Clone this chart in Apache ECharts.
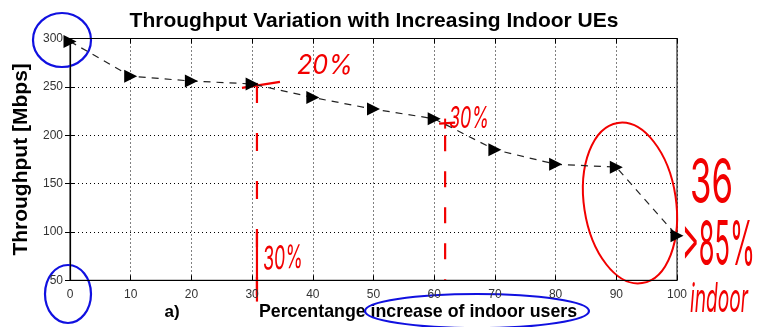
<!DOCTYPE html>
<html><head><meta charset="utf-8">
<script src="https://cdn.jsdelivr.net/npm/echarts@6/dist/echarts.min.js"></script>
<style>html,body{margin:0;padding:0;background:#fff}#c{width:757px;height:327px}</style>
</head><body><div id="c"></div>
<script>
const percentIncrease = [0, 10, 20, 30, 40, 50, 60, 70, 80, 90, 100];
const throughputMbps = [297, 261, 256, 253, 239, 227, 217, 185, 170, 167, 96];
const yTicks = [50, 100, 150, 200, 250, 300];
const xTicks = [0, 10, 20, 30, 40, 50, 60, 70, 80, 90, 100];

const chart = echarts.init(document.getElementById('c'), null, {renderer: 'canvas'});
const font = '"Liberation Sans", Arial, sans-serif';
const tickStyle = {show: true, inside: true, length: 5, lineStyle: {color: '#000', width: 1}};
const gridLine = {show: true, lineStyle: {color: '#000', type: [1, 3], width: 1}};

const option = {
  backgroundColor: '#fff',
  animation: false,
  title: {
    text: 'Throughput Variation with Increasing Indoor UEs',
    left: 369, textAlign: 'center', top: 6,
    textStyle: {fontFamily: font, fontWeight: 'bold', fontSize: 21, color: '#000'}
  },
  grid: {left: 70, right: 80, top: 38.5, bottom: 46.7, show: true, borderColor: '#000', borderWidth: 1},
  xAxis: [{
    type: 'value', min: xTicks[0], max: xTicks[xTicks.length - 1], interval: 10,
    axisLine: {show: true, lineStyle: {color: '#000', width: 1.2}},
    axisTick: tickStyle, splitLine: gridLine,
    axisLabel: {fontFamily: font, fontSize: 12, color: '#333', margin: 8}
  }, {
    type: 'value', position: 'top', min: 0, max: 100, interval: 10,
    axisLine: {show: true, lineStyle: {color: '#000'}}, axisTick: tickStyle,
    axisLabel: {show: false}, splitLine: {show: false}
  }],
  yAxis: [{
    type: 'value', min: yTicks[0], max: yTicks[yTicks.length - 1], interval: 50,
    name: 'Throughput [Mbps]', nameLocation: 'middle', nameGap: 34,
    nameTextStyle: {fontFamily: font, fontWeight: 'bold', fontSize: 21, color: '#000'},
    axisLine: {show: true, lineStyle: {color: '#000', width: 1.2}},
    axisTick: tickStyle, splitLine: gridLine,
    axisLabel: {fontFamily: font, fontSize: 12, color: '#333', margin: 7}
  }, {
    type: 'value', position: 'right', min: 50, max: 300, interval: 50,
    axisLine: {show: true, lineStyle: {color: '#000'}}, axisTick: tickStyle,
    axisLabel: {show: false}, splitLine: {show: false}
  }],
  series: [{
    type: 'line',
    data: percentIncrease.map((x, i) => [x, throughputMbps[i]]),
    symbol: 'triangle', symbolRotate: -90, symbolSize: 13,
    itemStyle: {color: '#000'},
    lineStyle: {color: '#222', width: 1.2, type: [7, 6]},
    clip: false
  }]
};
chart.setOption(option);

function px(x, y) { return chart.convertToPixel({xAxisIndex: 0, yAxisIndex: 0}, [x, y]); }
const red = '#f20000', blue = '#1010e0';
const hand = 'Inter, "Open Sans", Lato, sans-serif';
const ctx = document.createElement('canvas').getContext('2d');
// text fitted into a box (left, top, width, height of the glyphs)
function fitText(str, left, top, w, h, fnt, color, extra) {
  const size = 24;
  const f = fnt.replace('SIZE', size + 'px');
  ctx.font = f;
  const mw = ctx.measureText(str).width;
  const sx = w / mw, sy = h / (0.74 * size);
  return Object.assign({
    type: 'text', x: left, y: top + h / 2 + 0.06 * size * sy, scaleX: sx, scaleY: sy,
    style: {text: str, font: f, fill: color, align: 'left', verticalAlign: 'middle'}
  }, extra || {});
}
const g = [];
g.push({type: 'text', x: 172, y: 312, style: {text: 'a)', font: 'bold 17px ' + font, fill: '#000', align: 'center', verticalAlign: 'middle'}});
g.push({type: 'text', x: 418, y: 312, style: {text: 'Percentange increase of indoor users', font: 'bold 17.8px ' + font, fill: '#000', align: 'center', verticalAlign: 'middle'}});
// red dashed vertical strokes
const l1a = px(30.8, 252), l1b = px(30.8, 28);
g.push({type: 'line', shape: {x1: l1a[0], y1: l1a[1], x2: l1b[0], y2: l1b[1]}, style: {stroke: red, lineWidth: 2.2, lineDash: [18, 30]}});
const l1c = px(30.8, 100);
g.push({type: 'line', shape: {x1: l1c[0], y1: l1c[1], x2: l1b[0], y2: l1b[1]}, style: {stroke: red, lineWidth: 2.2}});
const l2a = px(61.8, 200), l2b = px(61.8, 50);
g.push({type: 'line', shape: {x1: l2a[0], y1: l2a[1], x2: l2b[0], y2: l2b[1]}, style: {stroke: red, lineWidth: 2.2, lineDash: [16, 20]}});
// red short crossing marks
const c1 = px(30.8, 252);
g.push({type: 'line', shape: {x1: c1[0] - 15, y1: c1[1] + 3, x2: c1[0] + 23, y2: c1[1] - 3}, style: {stroke: red, lineWidth: 2.2}});
g.push({type: 'line', shape: {x1: c1[0], y1: c1[1] - 2, x2: c1[0], y2: c1[1] + 6}, style: {stroke: red, lineWidth: 2}});
const c2 = px(61.8, 212);
g.push({type: 'line', shape: {x1: c2[0] - 6, y1: c2[1], x2: c2[0] + 10, y2: c2[1] - 1}, style: {stroke: red, lineWidth: 2.2}});
g.push({type: 'line', shape: {x1: c2[0], y1: c2[1] - 5, x2: c2[0], y2: c2[1] + 5}, style: {stroke: red, lineWidth: 2}});
// red handwritten notes
g.push(fitText('20%', 297, 54, 56, 20, 'italic 400 SIZE ' + hand, red));
g.push(fitText('30%', 449, 106, 40, 22, 'italic 400 SIZE ' + hand, red));
g.push(fitText('30%', 263, 246, 40, 24, 'italic 400 SIZE ' + hand, red, {rotation: 0.05}));
g.push(fitText('36', 690, 158, 43, 46, '400 SIZE ' + hand, red));
g.push(fitText('>85%', 682, 220, 73, 46, '400 SIZE ' + hand, red));
g.push(fitText('indoor', 690, 282, 58, 30, 'italic 400 SIZE ' + hand, red));
// red ellipse around last points
g.push({type: 'ellipse', shape: {cx: 630, cy: 203, rx: 46, ry: 81}, rotation: 0.15, originX: 630, originY: 203, style: {stroke: red, lineWidth: 2, fill: 'none'}});
// blue circles
g.push({type: 'ellipse', shape: {cx: 62, cy: 40, rx: 29, ry: 27}, style: {stroke: blue, lineWidth: 2.2, fill: 'none'}});
g.push({type: 'ellipse', shape: {cx: 68, cy: 294, rx: 23, ry: 29}, style: {stroke: blue, lineWidth: 2.2, fill: 'none'}});
g.push({type: 'ellipse', shape: {cx: 477, cy: 311, rx: 112, ry: 17}, style: {stroke: blue, lineWidth: 2.2, fill: 'none'}});
chart.setOption({graphic: g});
</script></body></html>
